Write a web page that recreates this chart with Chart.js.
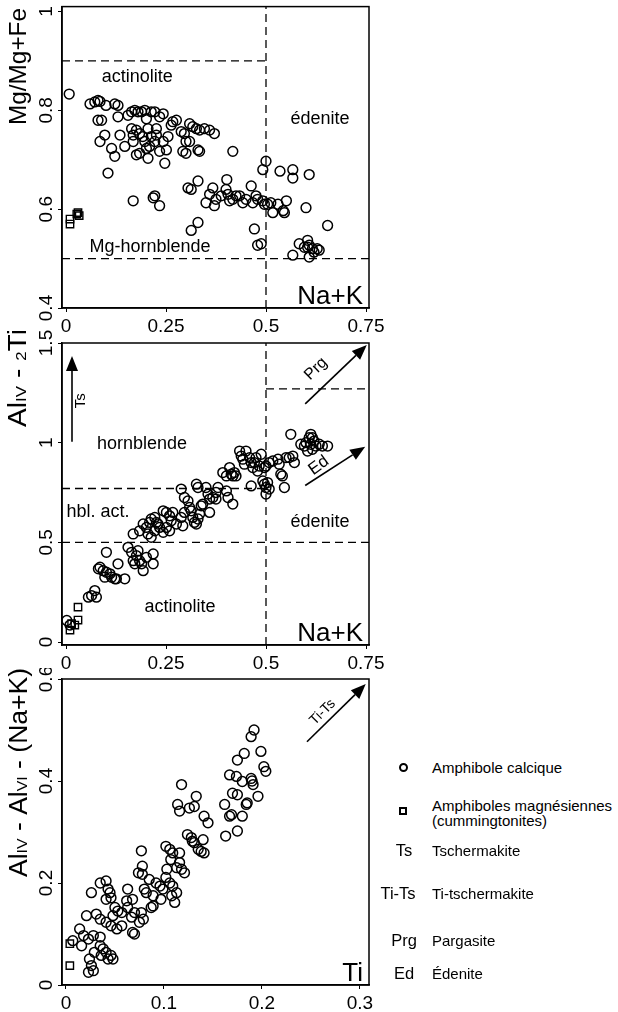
<!DOCTYPE html>
<html>
<head>
<meta charset="utf-8">
<script src="https://cdn.jsdelivr.net/npm/chart.js@4.4.1/dist/chart.umd.min.js"></script>
<style>
  body { margin: 0; background: #fff; width: 618px; height: 1012px; position: relative; overflow: hidden; }
  canvas { position: absolute; left: 0; }
  .lg { position: absolute; font-family: "Liberation Sans", Arial, sans-serif; font-size: 15px; color: #000; line-height: 15px; transform: translateY(-50%); white-space: nowrap; }
  .sym { width: 50px; text-align: center; font-size: 16.5px; }
  .mk { position: absolute; box-sizing: border-box; border: 2px solid #000; }
</style>
</head>
<body>
<canvas id="c1" width="390" height="336" style="top:0"></canvas>
<canvas id="c2" width="390" height="344" style="top:326px"></canvas>
<canvas id="c3" width="390" height="344" style="top:668px"></canvas>

<span class="mk" style="left:399px;top:763px;width:9px;height:9px;border-radius:50%"></span>
<div class="lg" style="left:432px;top:767px">Amphibole calcique</div>
<span class="mk" style="left:399px;top:807px;width:8px;height:8px"></span>
<div class="lg" style="left:432px;top:813px">Amphiboles magnésiennes<br>(cummingtonites)</div>
<div class="lg sym" style="left:379px;top:850px">Ts</div>
<div class="lg" style="left:432px;top:850px">Tschermakite</div>
<div class="lg sym" style="left:373px;top:893px">Ti-Ts</div>
<div class="lg" style="left:432px;top:893px">Ti-tschermakite</div>
<div class="lg sym" style="left:379px;top:940px">Prg</div>
<div class="lg" style="left:432px;top:940px">Pargasite</div>
<div class="lg sym" style="left:379px;top:973px">Ed</div>
<div class="lg" style="left:432px;top:973px">Édenite</div>

<script>
const FONT = '"Liberation Sans", Arial, sans-serif';

// panel 1 : Na+K vs Mg/(Mg+Fe)
const nakMgCalc = [
  [0.008,0.833],[0.06,0.813],[0.072,0.817],[0.08,0.82],[0.085,0.818],[0.10,0.81],[0.122,0.813],[0.13,0.81],
  [0.08,0.78],[0.089,0.78],[0.085,0.737],[0.097,0.75],[0.114,0.723],[0.122,0.707],[0.105,0.673],
  [0.13,0.787],[0.135,0.75],[0.147,0.727],[0.155,0.79],[0.164,0.797],[0.172,0.8],[0.18,0.797],[0.189,0.797],[0.197,0.8],
  [0.164,0.763],[0.168,0.75],[0.176,0.76],[0.184,0.753],[0.192,0.747],[0.168,0.737],[0.176,0.71],[0.184,0.713],
  [0.201,0.783],[0.205,0.763],[0.213,0.747],[0.222,0.737],[0.226,0.763],[0.205,0.703],
  [0.213,0.797],[0.222,0.797],[0.234,0.787],[0.243,0.793],[0.197,0.737],[0.201,0.723],[0.209,0.727],
  [0.243,0.737],[0.247,0.693],[0.251,0.72],[0.234,0.717],[0.226,0.75],[0.255,0.747],
  [0.267,0.777],[0.276,0.78],[0.263,0.77],[0.288,0.757],[0.296,0.753],[0.3,0.737],[0.292,0.717],[0.3,0.713],
  [0.309,0.773],[0.317,0.767],[0.326,0.763],[0.334,0.76],[0.346,0.763],[0.359,0.76],[0.371,0.753],
  [0.33,0.72],[0.334,0.717],[0.309,0.737],[0.417,0.717],
  [0.168,0.617],[0.218,0.623],[0.222,0.627],[0.234,0.607],[0.305,0.643],[0.313,0.64],[0.33,0.657],
  [0.313,0.557],[0.33,0.573],[0.35,0.613],[0.359,0.63],[0.367,0.643],[0.371,0.607],
  [0.375,0.62],[0.388,0.627],[0.4,0.64],[0.405,0.63],[0.409,0.617],[0.402,0.66],
  [0.417,0.62],[0.425,0.627],[0.434,0.627],[0.442,0.613],[0.45,0.62],
  [0.463,0.647],[0.475,0.627],[0.479,0.62],[0.467,0.613],[0.492,0.617],[0.496,0.61],
  [0.471,0.56],[0.479,0.527],[0.488,0.53],[0.492,0.68],[0.5,0.697],
  [0.504,0.61],[0.512,0.613],[0.517,0.593],[0.53,0.61],[0.543,0.597],[0.551,0.617],[0.546,0.593],
  [0.535,0.677],[0.567,0.68],[0.567,0.663],[0.6,0.603],[0.608,0.67],[0.654,0.567],[0.567,0.507],
  [0.583,0.53],[0.596,0.523],[0.604,0.537],[0.608,0.527],[0.616,0.52],[0.62,0.513],[0.628,0.52],[0.633,0.517],[0.608,0.503],[0.604,0.523]
];
const nakMgCumm = [[0.01,0.57],[0.01,0.58],[0.027,0.59],[0.033,0.587],[0.03,0.593]];

// panel 2 : Na+K vs AlIV - 2Ti
const nakAlCalc = [
  [0.002,0.108],[0.01,0.085],[0.056,0.225],[0.064,0.233],[0.076,0.225],[0.072,0.258],
  [0.081,0.367],[0.085,0.375],[0.093,0.358],[0.101,0.35],[0.097,0.325],[0.114,0.325],[0.122,0.317],[0.11,0.342],[0.13,0.392],[0.126,0.317],
  [0.101,0.45],[0.147,0.317],[0.155,0.475],[0.164,0.45],[0.168,0.408],[0.176,0.433],[0.172,0.392],[0.184,0.408],[0.18,0.458],
  [0.193,0.358],[0.189,0.392],[0.218,0.392],[0.218,0.442],[0.201,0.425],
  [0.168,0.542],[0.184,0.558],[0.193,0.592],[0.201,0.575],[0.209,0.6],[0.205,0.542],[0.213,0.525],[0.222,0.558],[0.226,0.6],[0.234,0.575],[0.243,0.55],[0.251,0.575],[0.259,0.558],
  [0.213,0.617],[0.222,0.625],[0.23,0.592],[0.243,0.658],[0.251,0.65],[0.259,0.633],[0.267,0.65],[0.263,0.608],[0.276,0.592],
  [0.288,0.625],[0.292,0.583],[0.296,0.65],[0.305,0.708],[0.309,0.675],[0.313,0.658],[0.288,0.767],[0.296,0.725],
  [0.317,0.625],[0.321,0.6],[0.326,0.592],[0.33,0.617],[0.334,0.642],[0.338,0.683],[0.342,0.692],[0.326,0.792],[0.33,0.775],
  [0.35,0.775],[0.355,0.742],[0.359,0.717],[0.367,0.725],[0.375,0.75],[0.38,0.775],[0.359,0.65],[0.375,0.717],
  [0.392,0.85],[0.401,0.833],[0.409,0.875],[0.413,0.842],[0.417,0.833],[0.401,0.758],[0.405,0.725],[0.417,0.692],[0.421,0.85],[0.425,0.833],
  [0.434,0.958],[0.438,0.933],[0.442,0.917],[0.45,0.958],[0.446,0.892],
  [0.459,0.925],[0.463,0.9],[0.467,0.875],[0.471,0.9],[0.475,0.925],[0.479,0.858],[0.483,0.883],[0.488,0.942],[0.463,0.783],
  [0.492,0.808],[0.496,0.792],[0.5,0.775],[0.504,0.8],[0.508,0.767],[0.5,0.742],[0.5,0.883],[0.508,0.9],[0.496,0.875],
  [0.517,0.908],[0.53,0.917],[0.533,0.892],[0.537,0.842],[0.541,0.833],[0.546,0.775],[0.55,0.925],[0.558,0.925],[0.567,0.933],[0.571,0.9],
  [0.562,1.042],[0.587,0.992],[0.596,0.983],[0.6,1.0],[0.608,1.025],[0.612,0.992],[0.616,0.967],[0.62,1.008],[0.625,0.983],
  [0.633,0.992],[0.641,0.983],[0.654,0.983],[0.604,0.958],[0.612,1.042],[0.616,1.025]
];
const nakAlCumm = [[0.01,0.06],[0.014,0.092],[0.03,0.175],[0.03,0.11],[0.022,0.085]];

// panel 3 : Ti vs AlIV - AlVI - (Na+K)
const tiAlCalc = [
  [0.192,0.5],[0.189,0.487],[0.182,0.454],[0.175,0.441],[0.199,0.458],
  [0.167,0.412],[0.174,0.409],[0.18,0.399],[0.17,0.376],[0.175,0.373],[0.189,0.405],[0.191,0.393],[0.19,0.40],
  [0.202,0.428],[0.204,0.419],[0.196,0.37],[0.162,0.354],[0.167,0.331],[0.169,0.334],[0.18,0.331],[0.184,0.354],[0.185,0.357],
  [0.163,0.292],[0.175,0.302],[0.118,0.393],[0.114,0.354],[0.116,0.341],[0.133,0.37],[0.131,0.35],[0.126,0.347],[0.141,0.331],[0.145,0.318],
  [0.124,0.295],[0.128,0.289],[0.129,0.282],[0.131,0.279],[0.135,0.266],[0.14,0.285],[0.138,0.262],[0.141,0.259],
  [0.102,0.272],[0.106,0.266],[0.109,0.259],[0.107,0.246],[0.116,0.24],[0.118,0.227],[0.121,0.22],[0.113,0.23],[0.103,0.227],[0.116,0.259],
  [0.077,0.263],[0.078,0.233],[0.074,0.22],[0.078,0.217],[0.085,0.207],[0.092,0.2],[0.096,0.194],[0.099,0.188],
  [0.102,0.211],[0.106,0.2],[0.109,0.194],[0.113,0.181],[0.108,0.175],[0.111,0.162],
  [0.08,0.188],[0.082,0.181],[0.089,0.175],[0.097,0.168],[0.087,0.152],[0.079,0.129],[0.075,0.123],[0.077,0.142],[0.089,0.155],
  [0.07,0.142],[0.063,0.152],[0.067,0.133],[0.057,0.142],[0.05,0.152],[0.053,0.145],[0.048,0.136],[0.063,0.188],[0.068,0.168],[0.062,0.165],
  [0.035,0.2],[0.041,0.204],[0.043,0.188],[0.045,0.181],[0.041,0.168],[0.046,0.171],[0.026,0.181],
  [0.021,0.136],[0.031,0.139],[0.035,0.129],[0.041,0.123],[0.046,0.116],[0.052,0.11],[0.057,0.116],
  [0.014,0.11],[0.018,0.097],[0.023,0.09],[0.028,0.097],[0.035,0.094],
  [0.035,0.077],[0.038,0.071],[0.041,0.064],[0.036,0.058],[0.043,0.051],[0.046,0.058],
  [0.029,0.064],[0.024,0.051],[0.026,0.038],[0.028,0.028],[0.023,0.025],[0.048,0.051],[0.016,0.077],[0.007,0.087],[0.068,0.103],[0.07,0.1]
];
const tiAlCumm = [[0.004,0.081],[0.004,0.038]];

// domain limits
const nakLimit = 0.5;
const mgActinolite = 0.9, mgHornblende = 0.5;
const alHblAct = 0.77, alActinolite = 0.5, alPargasite = 1.27;

const pts = arr => arr.map(p => ({ x: p[0], y: p[1] }));
const fmt = v => String(+v.toFixed(2));

function circles(arr) {
  return { data: pts(arr), pointStyle: 'circle', pointRadius: 4.9, borderWidth: 1.5, borderColor: '#000', backgroundColor: 'rgba(0,0,0,0)' };
}
function squares(arr) {
  return { data: pts(arr), pointStyle: 'rect', pointRadius: 5.2, borderWidth: 1.4, borderColor: '#000', backgroundColor: 'rgba(0,0,0,0)' };
}
function dash(x1, y1, x2, y2) {
  return { data: [{ x: x1, y: y1 }, { x: x2, y: y2 }], showLine: true, borderColor: '#000', borderWidth: 1.3, borderDash: [8, 5], pointRadius: 0, fill: false };
}

const overlay = {
  id: 'overlay',
  afterDraw(chart, args, o) {
    const { ctx, chartArea: a, scales: { x, y } } = chart;
    ctx.save();
    ctx.fillStyle = '#000';
    ctx.strokeStyle = '#000';
    ctx.lineWidth = 1.5;
    ctx.strokeRect(a.left, a.top, a.width, a.height);

    (o.labels || []).forEach(l => {
      ctx.save();
      ctx.translate(x.getPixelForValue(l.x), y.getPixelForValue(l.y));
      ctx.rotate((l.rot || 0) * Math.PI / 180);
      ctx.font = (l.size || 18) + 'px ' + FONT;
      ctx.textAlign = 'center';
      ctx.textBaseline = 'middle';
      ctx.fillText(l.text, 0, 0);
      ctx.restore();
    });

    (o.arrows || []).forEach(ar => {
      const x1 = x.getPixelForValue(ar[0]), y1 = y.getPixelForValue(ar[1]);
      const x2 = x.getPixelForValue(ar[2]), y2 = y.getPixelForValue(ar[3]);
      const ang = Math.atan2(y2 - y1, x2 - x1);
      const hl = 15, hw = 6;
      const bx = x2 - hl * Math.cos(ang), by = y2 - hl * Math.sin(ang);
      ctx.lineWidth = 1.6;
      ctx.beginPath(); ctx.moveTo(x1, y1); ctx.lineTo(bx, by); ctx.stroke();
      ctx.beginPath();
      ctx.moveTo(x2, y2);
      ctx.lineTo(bx + hw * Math.sin(ang), by - hw * Math.cos(ang));
      ctx.lineTo(bx - hw * Math.sin(ang), by + hw * Math.cos(ang));
      ctx.closePath(); ctx.fill();
    });

    if (o.corner) {
      ctx.font = '26px ' + FONT;
      ctx.textAlign = 'right';
      ctx.textBaseline = 'alphabetic';
      ctx.fillText(o.corner, a.right - 6, a.bottom - 4);
    }

    if (o.title) {
      const t = o.title;
      let total = 0;
      const widths = t.parts.map(p => { ctx.font = p[1] + 'px ' + FONT; const w = ctx.measureText(p[0]).width; total += w; return w; });
      ctx.translate(t.x, t.top + t.len);
      ctx.rotate(-Math.PI / 2);
      ctx.scale(t.len / total, 1);
      ctx.textAlign = 'left';
      ctx.textBaseline = 'alphabetic';
      let cx = 0;
      t.parts.forEach((p, i) => { ctx.font = p[1] + 'px ' + FONT; ctx.fillText(p[0], cx, 0); cx += widths[i]; });
    }
    ctx.restore();
  }
};

function makePanel(id, cfg) {
  return new Chart(document.getElementById(id), {
    type: 'scatter',
    data: { datasets: cfg.datasets },
    plugins: [overlay],
    options: {
      responsive: false,
      animation: false,
      events: [],
      layout: { padding: { top: cfg.padTop, right: 21, left: 0, bottom: 0 } },
      plugins: { legend: { display: false }, tooltip: { enabled: false }, overlay: cfg.overlay },
      scales: {
        x: {
          type: 'linear', min: cfg.x[0], max: cfg.x[1],
          afterFit: s => { s.height = cfg.xh; s.paddingLeft = 0; s.paddingRight = 0; },
          ticks: { stepSize: cfg.x[2], includeBounds: false, maxRotation: 0, padding: 3, color: '#000', callback: fmt, font: { family: FONT, size: 19 } },
          grid: { drawOnChartArea: false, tickLength: 4, color: '#000' },
          border: { color: '#000', width: 1.5 }
        },
        y: {
          type: 'linear', min: cfg.y[0], max: cfg.y[1],
          afterFit: s => { s.width = 62; s.paddingTop = 0; s.paddingBottom = 0; },
          ticks: { stepSize: cfg.y[2], includeBounds: false, minRotation: 90, maxRotation: 90, crossAlign: 'center', padding: -2, color: '#000', callback: fmt, font: { family: FONT, size: 19 } },
          grid: { drawOnChartArea: false, tickLength: 4, color: '#000' },
          border: { color: '#000', width: 1.5 }
        }
      }
    }
  });
}

const X1 = [-0.01, 0.7575, 0.25];

makePanel('c1', {
  padTop: 3, xh: 28, x: X1, y: [0.4, 1.01, 0.2],
  datasets: [
    dash(X1[0], mgActinolite, nakLimit, mgActinolite),
    dash(X1[0], mgHornblende, X1[1], mgHornblende),
    dash(nakLimit, 0.4, nakLimit, 1.01),
    circles(nakMgCalc),
    squares(nakMgCumm)
  ],
  overlay: {
    corner: 'Na+K',
    title: { parts: [['Mg/Mg+Fe', 24]], x: 26, top: 8, len: 117 },
    labels: [
      { text: 'actinolite', x: 0.178, y: 0.867 },
      { text: 'édenite', x: 0.635, y: 0.783 },
      { text: 'Mg-hornblende', x: 0.21, y: 0.523 }
    ]
  }
});

makePanel('c2', {
  padTop: 17, xh: 25, x: X1, y: [-0.015, 1.5, 0.5],
  datasets: [
    dash(X1[0], alHblAct, nakLimit, alHblAct),
    dash(X1[0], alActinolite, X1[1], alActinolite),
    dash(nakLimit, alPargasite, X1[1], alPargasite),
    dash(nakLimit, -0.015, nakLimit, 1.5),
    circles(nakAlCalc),
    squares(nakAlCumm)
  ],
  overlay: {
    corner: 'Na+K',
    title: { parts: [['Al', 25], ['IV', 15], [' - ', 25], ['2', 15], ['Ti', 25]], x: 26, top: 3, len: 98 },
    labels: [
      { text: 'hornblende', x: 0.19, y: 0.995 },
      { text: 'hbl. act.', x: 0.08, y: 0.65 },
      { text: 'édenite', x: 0.635, y: 0.60 },
      { text: 'actinolite', x: 0.285, y: 0.175 },
      { text: 'Ts', x: 0.036, y: 1.21, rot: -90, size: 15 },
      { text: 'Prg', x: 0.625, y: 1.37, rot: -44, size: 16 },
      { text: 'Ed', x: 0.632, y: 0.885, rot: -36, size: 17 }
    ],
    arrows: [[0.015, 1.005, 0.015, 1.435], [0.598, 1.195, 0.752, 1.49], [0.598, 0.785, 0.748, 0.98]]
  }
});

makePanel('c3', {
  padTop: 11, xh: 27, x: [-0.004, 0.3093, 0.1], y: [0, 0.6, 0.2],
  datasets: [
    circles(tiAlCalc),
    squares(tiAlCumm)
  ],
  overlay: {
    corner: 'Ti',
    title: { parts: [['Al', 25], ['IV', 15], [' - ', 25], ['Al', 25], ['VI', 15], [' - (Na+K)', 25]], x: 27, top: 0, len: 209 },
    labels: [
      { text: 'Ti-Ts', x: 0.262, y: 0.535, rot: -45, size: 14 }
    ],
    arrows: [[0.246, 0.477, 0.306, 0.59]]
  }
});
</script>
</body>
</html>
